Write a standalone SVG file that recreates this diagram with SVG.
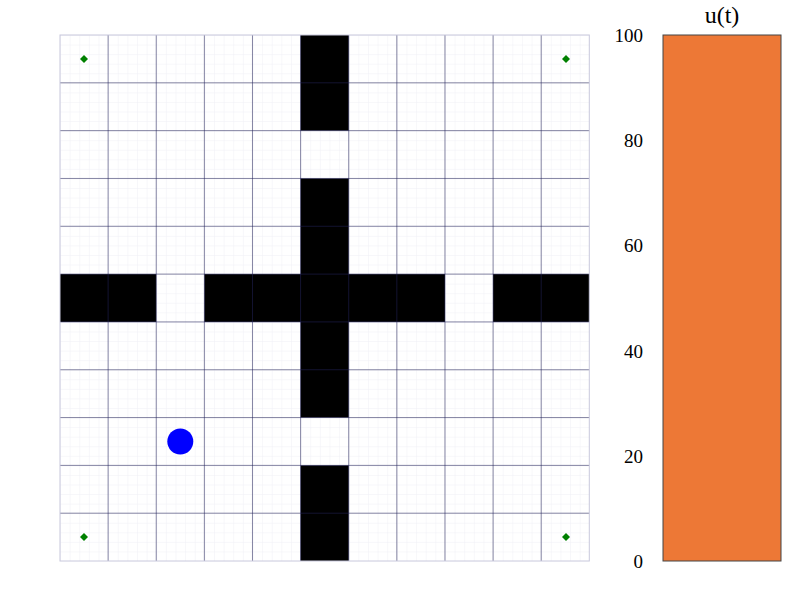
<svg xmlns="http://www.w3.org/2000/svg" width="800" height="600" viewBox="0 0 800 600">
<style>
.major{stroke:#23235a;stroke-opacity:0.55;stroke-width:1;fill:none}
.wall{fill:#000000}
.goal{fill:#008000}
.tick{font-family:"Liberation Serif","DejaVu Serif",serif;font-size:19px;fill:#000;text-anchor:end}
.title{font-family:"Liberation Serif","DejaVu Serif",serif;font-size:24px;fill:#000;text-anchor:middle}
</style>
<defs>
<pattern id="minor" patternUnits="userSpaceOnUse" x="60" y="35" width="9.624" height="9.564">
<path d="M0 0V9.564M0 0H9.624" stroke="#efeff6" stroke-width="1" fill="none"/>
</pattern>
<path id="diamond" d="M0 -4L4 0L0 4L-4 0Z"/>
</defs>
<rect width="800" height="600" fill="#ffffff"/>
<g id="grid-bg">
<rect x="60" y="35" width="529.3" height="526" fill="url(#minor)"/>
</g>
<g id="walls">
<rect class="wall" x="300.6" y="35" width="48.12" height="95.64"/>
<rect class="wall" x="300.6" y="178.46" width="48.12" height="239.1"/>
<rect class="wall" x="300.6" y="465.38" width="48.12" height="95.62"/>
<rect class="wall" x="60" y="274.1" width="96.24" height="47.82"/>
<rect class="wall" x="204.36" y="274.1" width="240.6" height="47.82"/>
<rect class="wall" x="493.08" y="274.1" width="96.22" height="47.82"/>
</g>
<g id="grid-lines">
<path class="major" d="M108.12 35V561M156.24 35V561M204.36 35V561M252.48 35V561M300.6 35V561M348.72 35V561M396.84 35V561M444.96 35V561M493.08 35V561M541.2 35V561M60 82.82H589.3M60 130.64H589.3M60 178.46H589.3M60 226.28H589.3M60 274.1H589.3M60 321.92H589.3M60 369.74H589.3M60 417.56H589.3M60 465.38H589.3M60 513.2H589.3"/>
<rect x="60" y="35" width="529.3" height="526" fill="none" stroke="#c8c8dc" stroke-width="1"/>
</g>
<g id="goals">
<use href="#diamond" class="goal" x="84" y="59"/>
<use href="#diamond" class="goal" x="566" y="59"/>
<use href="#diamond" class="goal" x="84" y="537"/>
<use href="#diamond" class="goal" x="566" y="537"/>
</g>
<g id="agent">
<circle cx="180.3" cy="441.5" r="13" fill="#0000ff"/>
</g>
<g id="colorbar">
<rect x="663" y="35" width="118" height="526" fill="#ed7836" stroke="#444444" stroke-width="1"/>
<text class="title" x="722" y="23">u(t)</text>
<text class="tick" x="643" y="42">100</text>
<text class="tick" x="643" y="147">80</text>
<text class="tick" x="643" y="252">60</text>
<text class="tick" x="643" y="358">40</text>
<text class="tick" x="643" y="463">20</text>
<text class="tick" x="643" y="568">0</text>
</g>
</svg>
